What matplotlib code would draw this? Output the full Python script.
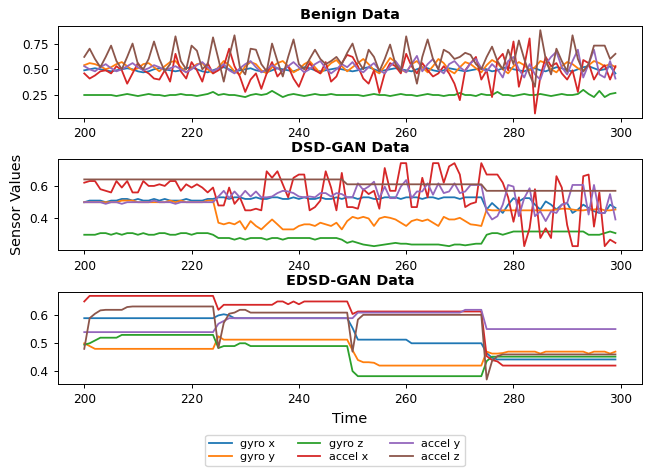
import matplotlib
matplotlib.use("Agg")
import matplotlib.pyplot as plt
from matplotlib.ticker import MultipleLocator

time = list(range(200, 300))
sensor_names = ['gyro x', 'gyro y', 'gyro z', 'accel x', 'accel y', 'accel z']
titles = ['Benign Data', 'DSD-GAN Data', 'EDSD-GAN Data']

# ---- Benign ----
benign_gyro_x = [0.49, 0.50, 0.51, 0.50, 0.49, 0.48, 0.49, 0.50, 0.51, 0.50, 0.48, 0.47, 0.48, 0.50, 0.51, 0.50, 0.49, 0.48, 0.49, 0.51,
                 0.52, 0.50, 0.48, 0.47, 0.49, 0.51, 0.52, 0.50, 0.48, 0.49, 0.50, 0.51, 0.49, 0.48, 0.47, 0.49, 0.51, 0.50, 0.49, 0.48,
                 0.50, 0.52, 0.51, 0.49, 0.48, 0.49, 0.50, 0.51, 0.50, 0.49, 0.48, 0.49, 0.51, 0.52, 0.50, 0.48, 0.49, 0.50, 0.51, 0.50,
                 0.49, 0.48, 0.50, 0.52, 0.51, 0.49, 0.48, 0.49, 0.51, 0.50, 0.49, 0.48, 0.49, 0.50, 0.51, 0.50, 0.48, 0.49, 0.51, 0.52,
                 0.50, 0.49, 0.48, 0.50, 0.51, 0.49, 0.48, 0.50, 0.52, 0.51, 0.49, 0.48, 0.50, 0.52, 0.53, 0.51, 0.49, 0.50, 0.53, 0.46]
benign_gyro_y = [0.54, 0.56, 0.55, 0.53, 0.50, 0.52, 0.55, 0.57, 0.53, 0.49, 0.51, 0.55, 0.56, 0.52, 0.48, 0.53, 0.57, 0.58, 0.52, 0.47,
                 0.51, 0.55, 0.56, 0.50, 0.46, 0.52, 0.58, 0.54, 0.48, 0.45, 0.53, 0.57, 0.55, 0.49, 0.46, 0.52, 0.56, 0.58, 0.53, 0.47,
                 0.50, 0.55, 0.58, 0.52, 0.46, 0.51, 0.56, 0.59, 0.53, 0.48, 0.52, 0.56, 0.60, 0.55, 0.49, 0.46, 0.53, 0.61, 0.57, 0.50,
                 0.47, 0.55, 0.58, 0.52, 0.47, 0.53, 0.60, 0.56, 0.49, 0.46, 0.52, 0.57, 0.55, 0.51, 0.47, 0.54, 0.59, 0.56, 0.50, 0.46,
                 0.53, 0.57, 0.54, 0.49, 0.52, 0.58, 0.56, 0.50, 0.47, 0.53, 0.57, 0.55, 0.51, 0.48, 0.54, 0.58, 0.56, 0.53, 0.55, 0.52]
benign_gyro_z = [0.25, 0.25, 0.25, 0.25, 0.25, 0.25, 0.24, 0.25, 0.26, 0.25, 0.24, 0.25, 0.26, 0.25, 0.25, 0.24, 0.25, 0.25, 0.26, 0.25,
                 0.25, 0.24, 0.25, 0.26, 0.28, 0.25, 0.26, 0.25, 0.25, 0.24, 0.23, 0.25, 0.26, 0.25, 0.26, 0.29, 0.26, 0.23, 0.25, 0.26,
                 0.25, 0.24, 0.25, 0.26, 0.25, 0.25, 0.26, 0.25, 0.25, 0.25, 0.25, 0.25, 0.24, 0.25, 0.26, 0.25, 0.25, 0.24, 0.25, 0.26,
                 0.25, 0.25, 0.24, 0.25, 0.26, 0.25, 0.25, 0.24, 0.25, 0.25, 0.27, 0.25, 0.25, 0.24, 0.26, 0.25, 0.25, 0.28, 0.25, 0.25,
                 0.24, 0.25, 0.26, 0.25, 0.25, 0.26, 0.25, 0.24, 0.25, 0.26, 0.25, 0.25, 0.26, 0.30, 0.26, 0.23, 0.29, 0.23, 0.26, 0.27]
benign_accel_x = [0.46, 0.41, 0.44, 0.48, 0.49, 0.46, 0.53, 0.49, 0.36, 0.46, 0.56, 0.49, 0.46, 0.41, 0.40, 0.49, 0.38, 0.65, 0.48, 0.41,
                  0.57, 0.49, 0.38, 0.56, 0.46, 0.49, 0.53, 0.70, 0.53, 0.43, 0.28, 0.40, 0.46, 0.31, 0.46, 0.57, 0.43, 0.49, 0.53, 0.41,
                  0.33, 0.46, 0.56, 0.49, 0.46, 0.57, 0.38, 0.43, 0.56, 0.64, 0.62, 0.53, 0.41, 0.36, 0.49, 0.27, 0.46, 0.56, 0.53, 0.46,
                  0.65, 0.53, 0.46, 0.56, 0.49, 0.43, 0.46, 0.53, 0.46, 0.36, 0.20, 0.49, 0.56, 0.62, 0.40, 0.49, 0.23, 0.59, 0.65, 0.49,
                  0.77, 0.33, 0.53, 0.80, 0.07, 0.43, 0.62, 0.53, 0.56, 0.46, 0.40, 0.49, 0.28, 0.59, 0.56, 0.40, 0.49, 0.54, 0.40, 0.53]
benign_accel_y = [0.53, 0.50, 0.48, 0.52, 0.55, 0.51, 0.48, 0.50, 0.53, 0.56, 0.52, 0.49, 0.51, 0.54, 0.52, 0.49, 0.51, 0.53, 0.50, 0.47,
                  0.50, 0.54, 0.57, 0.52, 0.48, 0.51, 0.55, 0.49, 0.46, 0.51, 0.55, 0.58, 0.52, 0.47, 0.50, 0.54, 0.51, 0.48, 0.53, 0.57,
                  0.52, 0.47, 0.50, 0.55, 0.58, 0.51, 0.46, 0.50, 0.55, 0.52, 0.57, 0.50, 0.47, 0.52, 0.56, 0.49, 0.46, 0.53, 0.58, 0.51,
                  0.47, 0.55, 0.63, 0.48, 0.55, 0.60, 0.50, 0.46, 0.55, 0.58, 0.52, 0.48, 0.56, 0.60, 0.51, 0.48, 0.55, 0.50, 0.42, 0.58,
                  0.62, 0.50, 0.42, 0.55, 0.45, 0.40, 0.55, 0.62, 0.67, 0.52, 0.45, 0.58, 0.69, 0.42, 0.55, 0.69, 0.45, 0.42, 0.58, 0.41]
benign_accel_z = [0.62, 0.70, 0.60, 0.52, 0.62, 0.73, 0.58, 0.50, 0.62, 0.75, 0.55, 0.50, 0.60, 0.77, 0.60, 0.48, 0.55, 0.82, 0.58, 0.50,
                  0.73, 0.68, 0.50, 0.55, 0.81, 0.60, 0.38, 0.62, 0.83, 0.52, 0.45, 0.70, 0.69, 0.55, 0.48, 0.75, 0.58, 0.43, 0.62, 0.79,
                  0.55, 0.50, 0.60, 0.69, 0.60, 0.55, 0.58, 0.62, 0.55, 0.66, 0.75, 0.58, 0.50, 0.69, 0.62, 0.48, 0.60, 0.74, 0.55, 0.48,
                  0.82, 0.58, 0.36, 0.62, 0.79, 0.60, 0.50, 0.69, 0.66, 0.60, 0.62, 0.66, 0.64, 0.55, 0.50, 0.62, 0.72, 0.58, 0.50, 0.69,
                  0.55, 0.78, 0.60, 0.45, 0.33, 0.88, 0.60, 0.45, 0.70, 0.58, 0.48, 0.83, 0.60, 0.48, 0.55, 0.73, 0.73, 0.73, 0.60, 0.65]

# ---- DSD-GAN ----
dsd_gyro_x = [0.50, 0.51, 0.51, 0.51, 0.50, 0.51, 0.51, 0.52, 0.52, 0.51, 0.52, 0.51, 0.51, 0.52, 0.51, 0.52, 0.51, 0.51, 0.51, 0.52,
              0.51, 0.51, 0.51, 0.52, 0.52, 0.53, 0.53, 0.52, 0.53, 0.53, 0.52, 0.52, 0.53, 0.52, 0.52, 0.53, 0.53, 0.52, 0.52, 0.53,
              0.52, 0.53, 0.52, 0.52, 0.53, 0.52, 0.52, 0.53, 0.52, 0.53, 0.53, 0.52, 0.53, 0.53, 0.52, 0.52, 0.53, 0.53, 0.53, 0.52,
              0.53, 0.53, 0.53, 0.52, 0.53, 0.53, 0.52, 0.53, 0.53, 0.53, 0.52, 0.53, 0.53, 0.53, 0.53, 0.455, 0.495, 0.465, 0.434, 0.485,
              0.525, 0.505, 0.525, 0.525, 0.485, 0.455, 0.505, 0.485, 0.455, 0.485, 0.495, 0.434, 0.455, 0.485, 0.465, 0.445, 0.434, 0.434, 0.485, 0.465]
dsd_gyro_y = [0.50, 0.50, 0.50, 0.50, 0.50, 0.50, 0.50, 0.51, 0.51, 0.51, 0.50, 0.50, 0.50, 0.50, 0.50, 0.50, 0.51, 0.50, 0.51, 0.50,
              0.50, 0.50, 0.50, 0.51, 0.51, 0.374, 0.364, 0.374, 0.364, 0.384, 0.333, 0.384, 0.354, 0.333, 0.364, 0.394, 0.364, 0.333, 0.333, 0.333,
              0.354, 0.364, 0.364, 0.354, 0.374, 0.364, 0.354, 0.374, 0.333, 0.384, 0.41, 0.40, 0.41, 0.40, 0.354, 0.40, 0.41, 0.404, 0.394, 0.374,
              0.354, 0.384, 0.394, 0.384, 0.394, 0.374, 0.354, 0.41, 0.394, 0.394, 0.404, 0.384, 0.364, 0.36, 0.354, 0.455, 0.45, 0.45, 0.45, 0.45,
              0.45, 0.45, 0.45, 0.45, 0.45, 0.45, 0.45, 0.45, 0.455, 0.46, 0.46, 0.455, 0.45, 0.45, 0.455, 0.455, 0.46, 0.45, 0.45, 0.455]
dsd_gyro_z = [0.30, 0.30, 0.30, 0.31, 0.31, 0.30, 0.31, 0.30, 0.31, 0.31, 0.30, 0.31, 0.30, 0.30, 0.31, 0.31, 0.30, 0.30, 0.31, 0.31,
              0.30, 0.31, 0.31, 0.31, 0.30, 0.28, 0.28, 0.28, 0.27, 0.28, 0.27, 0.28, 0.28, 0.28, 0.27, 0.28, 0.28, 0.27, 0.28, 0.28,
              0.28, 0.28, 0.28, 0.27, 0.28, 0.28, 0.28, 0.28, 0.27, 0.25, 0.26, 0.25, 0.24, 0.235, 0.23, 0.235, 0.24, 0.245, 0.25, 0.245,
              0.245, 0.24, 0.24, 0.24, 0.24, 0.24, 0.24, 0.235, 0.23, 0.24, 0.24, 0.235, 0.24, 0.245, 0.245, 0.30, 0.31, 0.31, 0.30, 0.31,
              0.32, 0.32, 0.32, 0.32, 0.32, 0.32, 0.32, 0.32, 0.32, 0.32, 0.32, 0.32, 0.32, 0.32, 0.30, 0.30, 0.30, 0.31, 0.32, 0.31]
dsd_accel_x = [0.62, 0.63, 0.63, 0.58, 0.57, 0.56, 0.63, 0.59, 0.63, 0.56, 0.56, 0.63, 0.60, 0.60, 0.61, 0.60, 0.63, 0.63, 0.57, 0.61,
               0.59, 0.61, 0.59, 0.56, 0.59, 0.48, 0.48, 0.59, 0.49, 0.53, 0.45, 0.45, 0.46, 0.45, 0.69, 0.65, 0.69, 0.61, 0.53, 0.65,
               0.67, 0.67, 0.45, 0.47, 0.51, 0.69, 0.59, 0.45, 0.68, 0.47, 0.47, 0.46, 0.58, 0.55, 0.57, 0.46, 0.71, 0.57, 0.57, 0.74,
               0.74, 0.47, 0.47, 0.65, 0.53, 0.74, 0.74, 0.62, 0.72, 0.74, 0.67, 0.47, 0.49, 0.50, 0.74, 0.67, 0.67, 0.67, 0.62, 0.53,
               0.38, 0.53, 0.23, 0.34, 0.58, 0.28, 0.34, 0.28, 0.66, 0.59, 0.36, 0.23, 0.23, 0.66, 0.67, 0.35, 0.56, 0.23, 0.27, 0.25]
dsd_accel_y = [0.50, 0.50, 0.50, 0.50, 0.49, 0.50, 0.50, 0.49, 0.50, 0.50, 0.50, 0.50, 0.50, 0.51, 0.50, 0.50, 0.50, 0.49, 0.50, 0.50,
               0.50, 0.50, 0.50, 0.50, 0.50, 0.535, 0.57, 0.525, 0.566, 0.53, 0.57, 0.535, 0.566, 0.53, 0.53, 0.535, 0.556, 0.57, 0.566, 0.556,
               0.535, 0.53, 0.535, 0.53, 0.556, 0.556, 0.535, 0.556, 0.55, 0.53, 0.53, 0.616, 0.576, 0.596, 0.626, 0.525, 0.596, 0.525, 0.525, 0.596,
               0.636, 0.525, 0.566, 0.566, 0.616, 0.546, 0.616, 0.556, 0.566, 0.616, 0.556, 0.566, 0.606, 0.606, 0.606, 0.444, 0.394, 0.414, 0.485, 0.606,
               0.596, 0.414, 0.525, 0.586, 0.414, 0.444, 0.384, 0.444, 0.434, 0.485, 0.495, 0.606, 0.606, 0.606, 0.424, 0.606, 0.434, 0.434, 0.55, 0.394]
dsd_accel_z = [0.64, 0.64, 0.64, 0.64, 0.64, 0.64, 0.64, 0.64, 0.64, 0.64, 0.64, 0.64, 0.64, 0.64, 0.64, 0.64, 0.64, 0.64, 0.64, 0.64,
               0.64, 0.64, 0.64, 0.64, 0.64, 0.64, 0.64, 0.64, 0.64, 0.64, 0.64, 0.64, 0.64, 0.64, 0.64, 0.64, 0.64, 0.64, 0.64, 0.64,
               0.64, 0.64, 0.64, 0.64, 0.64, 0.64, 0.64, 0.64, 0.64, 0.61, 0.61, 0.61, 0.61, 0.61, 0.61, 0.61, 0.61, 0.61, 0.61, 0.61,
               0.61, 0.61, 0.61, 0.61, 0.61, 0.61, 0.61, 0.61, 0.61, 0.61, 0.61, 0.61, 0.61, 0.61, 0.61, 0.57, 0.57, 0.57, 0.57, 0.57,
               0.57, 0.57, 0.57, 0.57, 0.57, 0.57, 0.57, 0.57, 0.57, 0.57, 0.57, 0.57, 0.57, 0.57, 0.57, 0.57, 0.57, 0.57, 0.57, 0.57]

# ---- EDSD-GAN ----
edsd_gyro_x = [0.59, 0.59, 0.59, 0.59, 0.59, 0.59, 0.59, 0.59, 0.59, 0.59, 0.59, 0.59, 0.59, 0.59, 0.59, 0.59, 0.59, 0.59, 0.59, 0.59,
               0.59, 0.59, 0.59, 0.59, 0.59, 0.60, 0.604, 0.60, 0.59, 0.59, 0.59, 0.59, 0.59, 0.59, 0.59, 0.59, 0.59, 0.59, 0.59, 0.59,
               0.59, 0.59, 0.59, 0.59, 0.59, 0.59, 0.59, 0.59, 0.59, 0.59, 0.555, 0.513, 0.513, 0.513, 0.513, 0.513, 0.513, 0.513, 0.513, 0.513,
               0.513, 0.50, 0.50, 0.50, 0.50, 0.50, 0.50, 0.50, 0.50, 0.50, 0.50, 0.50, 0.50, 0.50, 0.50, 0.465, 0.448, 0.442, 0.442, 0.442,
               0.442, 0.442, 0.442, 0.442, 0.442, 0.442, 0.442, 0.442, 0.442, 0.442, 0.442, 0.442, 0.442, 0.442, 0.442, 0.442, 0.442, 0.442, 0.442, 0.442]
edsd_gyro_y = [0.50, 0.49, 0.48, 0.48, 0.48, 0.48, 0.48, 0.48, 0.48, 0.48, 0.48, 0.48, 0.48, 0.48, 0.48, 0.48, 0.48, 0.48, 0.48, 0.48,
               0.48, 0.48, 0.48, 0.48, 0.48, 0.525, 0.513, 0.513, 0.513, 0.513, 0.513, 0.513, 0.513, 0.513, 0.513, 0.513, 0.513, 0.513, 0.513, 0.513,
               0.513, 0.513, 0.513, 0.513, 0.513, 0.513, 0.513, 0.513, 0.513, 0.513, 0.475, 0.44, 0.432, 0.432, 0.43, 0.42, 0.42, 0.42, 0.42, 0.42,
               0.42, 0.42, 0.42, 0.42, 0.42, 0.42, 0.42, 0.42, 0.42, 0.42, 0.42, 0.42, 0.42, 0.42, 0.42, 0.47, 0.463, 0.463, 0.465, 0.47,
               0.47, 0.47, 0.47, 0.47, 0.47, 0.463, 0.47, 0.47, 0.47, 0.47, 0.47, 0.47, 0.47, 0.47, 0.463, 0.47, 0.47, 0.47, 0.463, 0.47]
edsd_gyro_z = [0.495, 0.50, 0.51, 0.52, 0.52, 0.52, 0.52, 0.53, 0.53, 0.53, 0.53, 0.53, 0.53, 0.53, 0.53, 0.53, 0.53, 0.53, 0.53, 0.53,
               0.53, 0.53, 0.53, 0.53, 0.53, 0.483, 0.49, 0.49, 0.49, 0.50, 0.50, 0.49, 0.49, 0.49, 0.49, 0.49, 0.49, 0.49, 0.49, 0.49,
               0.49, 0.49, 0.49, 0.49, 0.49, 0.49, 0.49, 0.49, 0.49, 0.49, 0.40, 0.382, 0.382, 0.382, 0.382, 0.382, 0.382, 0.382, 0.382, 0.382,
               0.382, 0.382, 0.382, 0.382, 0.382, 0.382, 0.382, 0.382, 0.382, 0.382, 0.382, 0.382, 0.382, 0.382, 0.382, 0.436, 0.452, 0.452, 0.452, 0.452,
               0.452, 0.452, 0.452, 0.452, 0.452, 0.452, 0.452, 0.452, 0.452, 0.452, 0.452, 0.452, 0.452, 0.452, 0.452, 0.452, 0.452, 0.452, 0.452, 0.452]
edsd_accel_x = [0.65, 0.67, 0.67, 0.67, 0.67, 0.67, 0.67, 0.67, 0.67, 0.67, 0.67, 0.67, 0.67, 0.67, 0.67, 0.67, 0.67, 0.67, 0.67, 0.67,
                0.67, 0.67, 0.67, 0.67, 0.67, 0.62, 0.638, 0.638, 0.638, 0.638, 0.638, 0.638, 0.638, 0.638, 0.638, 0.638, 0.65, 0.65, 0.64, 0.65,
                0.64, 0.65, 0.65, 0.65, 0.65, 0.65, 0.65, 0.65, 0.65, 0.65, 0.605, 0.614, 0.614, 0.614, 0.614, 0.614, 0.614, 0.614, 0.614, 0.614,
                0.614, 0.614, 0.614, 0.614, 0.614, 0.614, 0.614, 0.614, 0.614, 0.614, 0.614, 0.614, 0.614, 0.614, 0.614, 0.454, 0.44, 0.435, 0.42, 0.42,
                0.42, 0.42, 0.42, 0.42, 0.42, 0.42, 0.42, 0.42, 0.42, 0.42, 0.42, 0.42, 0.42, 0.42, 0.42, 0.42, 0.42, 0.42, 0.42, 0.42]
edsd_accel_y = [0.54, 0.54, 0.54, 0.54, 0.54, 0.54, 0.54, 0.54, 0.54, 0.54, 0.54, 0.54, 0.54, 0.54, 0.54, 0.54, 0.54, 0.54, 0.54, 0.54,
                0.54, 0.54, 0.54, 0.54, 0.54, 0.57, 0.58, 0.59, 0.59, 0.59, 0.59, 0.59, 0.59, 0.59, 0.59, 0.59, 0.59, 0.59, 0.59, 0.59,
                0.59, 0.59, 0.59, 0.59, 0.59, 0.59, 0.59, 0.59, 0.59, 0.59, 0.59, 0.61, 0.61, 0.61, 0.61, 0.61, 0.61, 0.61, 0.61, 0.61,
                0.61, 0.61, 0.61, 0.61, 0.61, 0.61, 0.61, 0.61, 0.61, 0.61, 0.61, 0.62, 0.62, 0.62, 0.62, 0.551, 0.551, 0.551, 0.551, 0.551,
                0.551, 0.551, 0.551, 0.551, 0.551, 0.551, 0.551, 0.551, 0.551, 0.551, 0.551, 0.551, 0.551, 0.551, 0.551, 0.551, 0.551, 0.551, 0.551, 0.551]
edsd_accel_z = [0.48, 0.59, 0.606, 0.618, 0.62, 0.62, 0.62, 0.62, 0.63, 0.632, 0.632, 0.632, 0.632, 0.632, 0.632, 0.632, 0.632, 0.632, 0.632, 0.632,
                0.632, 0.632, 0.632, 0.632, 0.632, 0.483, 0.573, 0.606, 0.61, 0.62, 0.62, 0.61, 0.61, 0.61, 0.61, 0.61, 0.61, 0.61, 0.61, 0.61,
                0.61, 0.61, 0.61, 0.61, 0.61, 0.61, 0.61, 0.61, 0.61, 0.61, 0.47, 0.585, 0.602, 0.602, 0.602, 0.602, 0.602, 0.602, 0.602, 0.602,
                0.602, 0.602, 0.602, 0.602, 0.602, 0.602, 0.602, 0.602, 0.602, 0.602, 0.602, 0.602, 0.602, 0.602, 0.602, 0.37, 0.436, 0.454, 0.46, 0.46,
                0.46, 0.46, 0.46, 0.46, 0.46, 0.46, 0.46, 0.46, 0.46, 0.46, 0.46, 0.46, 0.46, 0.46, 0.46, 0.46, 0.46, 0.46, 0.46, 0.46]

datasets = [
    [benign_gyro_x, benign_gyro_y, benign_gyro_z, benign_accel_x, benign_accel_y, benign_accel_z],
    [dsd_gyro_x, dsd_gyro_y, dsd_gyro_z, dsd_accel_x, dsd_accel_y, dsd_accel_z],
    [edsd_gyro_x, edsd_gyro_y, edsd_gyro_z, edsd_accel_x, edsd_accel_y, edsd_accel_z],
]
y_steps = [0.25, 0.2, 0.1]

W, H = 647, 472
fig = plt.figure(figsize=(W / 100, H / 100), dpi=100)

# axes boxes in pixels: (top, bottom)
boxes = [(26, 117.7), (159, 250.3), (291.7, 383.7)]
left, right = 57.7, 642
axes = []
for (top, bot), title, series, step in zip(boxes, titles, datasets, y_steps):
    ax = fig.add_axes([left / W, 1 - bot / H, (right - left) / W, (bot - top) / H])
    for name, vals in zip(sensor_names, series):
        ax.plot(time, vals, label=name, linewidth=1.3)
    ax.set_title(title, fontsize=10.4, fontweight='bold', pad=5)
    ax.yaxis.set_major_locator(MultipleLocator(step))
    ax.tick_params(labelsize=8.7, length=3.2, width=0.7)
    for s in ax.spines.values():
        s.set_linewidth(0.7)
    axes.append(ax)

axes[1].set_ylabel('Sensor Values', fontsize=10.4)
axes[2].set_xlabel('Time', fontsize=10.4)

handles, labels = axes[0].get_legend_handles_labels()
fig.legend(handles, labels, loc='upper center', ncol=3, fontsize=8,
           bbox_to_anchor=(335 / W, 1 - 435 / H), frameon=True,
           borderaxespad=0, labelspacing=0.3, handlelength=2.0,
           columnspacing=2.0, borderpad=0.35)

fig.savefig('out.png', dpi=100)
